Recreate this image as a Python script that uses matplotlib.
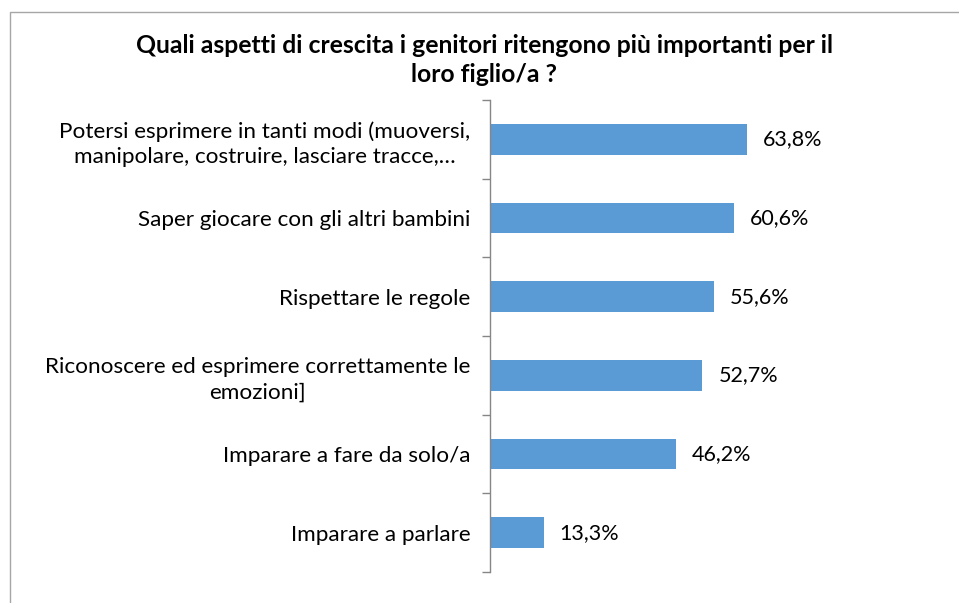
import matplotlib
matplotlib.use("Agg")
import matplotlib.pyplot as plt
from matplotlib.patches import Rectangle
from matplotlib.ticker import FixedLocator

categories = [
    "Potersi esprimere in tanti modi (muoversi,\nmanipolare, costruire, lasciare tracce,…",
    "Saper giocare con gli altri bambini",
    "Rispettare le regole",
    "Riconoscere ed esprimere correttamente le\nemozioni]",
    "Imparare a fare da solo/a",
    "Imparare a parlare",
]
values = [63.8, 60.6, 55.6, 52.7, 46.2, 13.3]
value_labels = ["63,8%", "60,6%", "55,6%", "52,7%", "46,2%", "13,3%"]
title = "Quali aspetti di crescita i genitori ritengono più importanti per il\nloro figlio/a ?"

plt.rcParams['font.family'] = ['Lato', 'DejaVu Sans']

fig = plt.figure(figsize=(9.59, 6.03), dpi=100)
W, H = 959, 603
ax = fig.add_axes([490 / W, 1 - 572 / H, (893 - 490) / W, (572 - 100) / H])

n = len(categories)
ypos = list(range(n))
ax.barh(ypos, values, height=0.39, color="#5B9BD5", zorder=2)
ax.set_ylim(n - 0.5, -0.5)
ax.set_xlim(0, 100)

for y, v, lab in zip(ypos, values, value_labels):
    ax.annotate(lab, (v, y), xytext=(11.5, 0), textcoords="offset points",
                ha="left", va="center", fontsize=15.5, color="#000000")

ax.set_yticks(ypos)
ax.set_yticklabels(categories, fontsize=16.2, ha="right", multialignment="center",
                   linespacing=1.32)
ax.tick_params(axis="y", which="major", length=0, pad=14)
ax.yaxis.set_minor_locator(FixedLocator([i - 0.5 for i in range(n + 1)]))
ax.tick_params(axis="y", which="minor", length=6, width=1, color="#868686")

ax.set_xticks([])
for s in ["top", "right", "bottom"]:
    ax.spines[s].set_visible(False)
ax.spines["left"].set_color("#868686")
ax.spines["left"].set_linewidth(1)

fig.text(484 / W, 1 - 60 / H, title, ha="center", va="center", fontsize=17.8,
         fontweight="bold", linespacing=1.3)

fig.patches.append(Rectangle((10 / W, -0.05), 1.1, 1 - 12 / H + 0.05, transform=fig.transFigure,
                             fill=False, edgecolor="#A6A6A6", linewidth=1))

fig.savefig("out.png", dpi=100, facecolor="white")
